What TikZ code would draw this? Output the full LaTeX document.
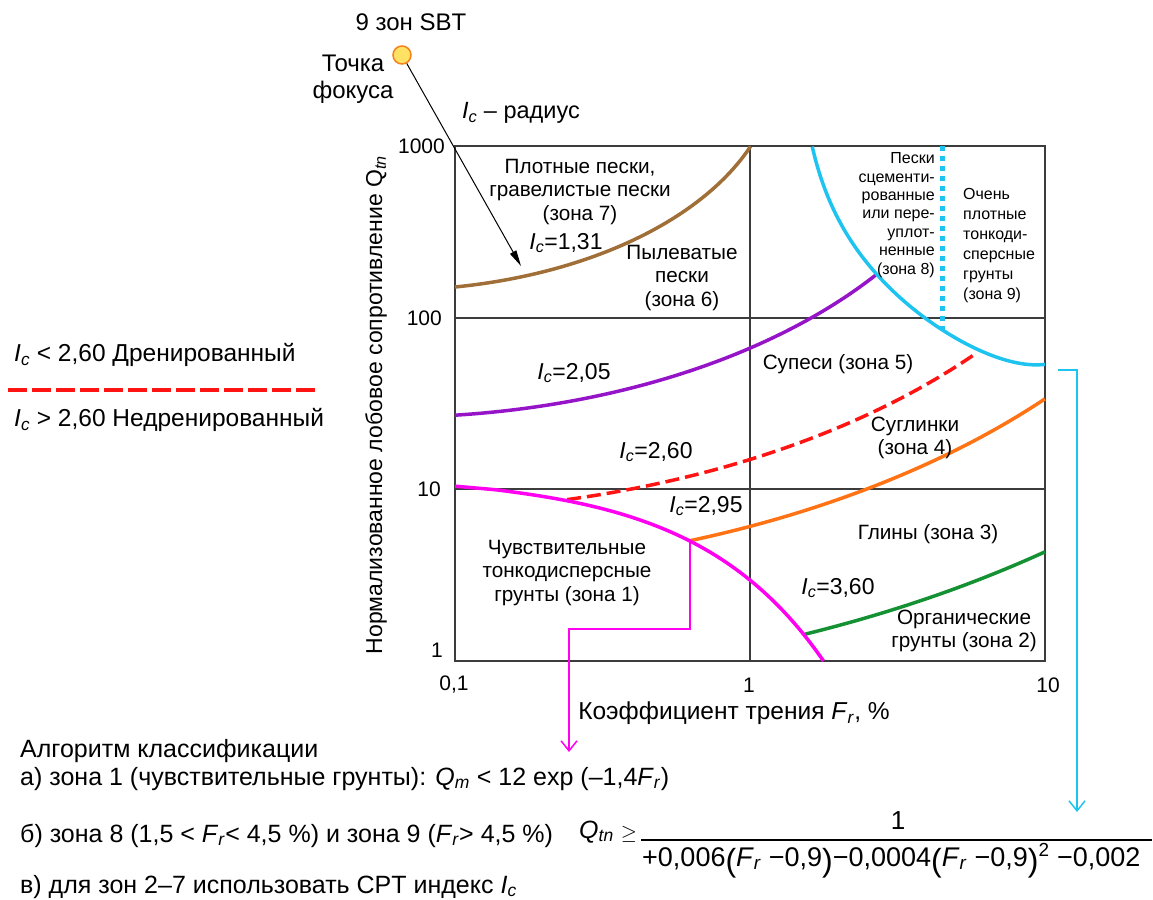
\documentclass[tikz,border=0pt]{standalone}
\usepackage{fontspec}
\setmainfont{Liberation Sans}
\usetikzlibrary{arrows.meta}

\definecolor{gridc}{RGB}{60,60,60}
\definecolor{cbrown}{RGB}{160,110,55}
\definecolor{cpurple}{RGB}{150,20,200}
\definecolor{cred}{RGB}{255,20,20}
\definecolor{corange}{RGB}{255,115,20}
\definecolor{cgreen}{RGB}{20,145,50}
\definecolor{cmag}{RGB}{255,0,240}
\definecolor{ccyan}{RGB}{30,195,240}
\definecolor{dotfill}{RGB}{255,225,100}
\definecolor{dotedge}{RGB}{245,130,30}

\newcommand\Ic{\textit{I}\textsubscript{\textit{c}}}
\newcommand\Fr{\textit{F}\textsubscript{\textit{r}}}
\newcommand\bp[1]{\raisebox{-0.2em}{\fontsize{32}{32}\selectfont #1}}

\begin{document}
\begin{tikzpicture}[x=1pt,y=-1pt,
 gridline/.style={draw=gridc, line width=1.6pt},
 curve/.style={line width=3.5pt},
 lbl/.style={font=\fontsize{20.7}{23.5}\selectfont, align=center, inner sep=0pt},
 sml/.style={font=\fontsize{16}{18.4}\selectfont, inner sep=0pt},
 tick/.style={font=\fontsize{21}{24}\selectfont, inner sep=0pt},
 txt/.style={font=\fontsize{24.5}{28}\selectfont, inner sep=0pt},
 bot/.style={font=\fontsize{25}{28}\selectfont, inner sep=0pt, anchor=base west},
 icl/.style={font=\fontsize{23}{26}\selectfont, inner sep=0pt},
 link/.style={line width=1.5pt},
]
\useasboundingbox (0,0) rectangle (1153,899);

% frame and grid
\draw[gridline] (455,146) rectangle (1045,661);
\draw[gridline] (750,146) -- (750,661);
\draw[gridline] (455,318) -- (1045,318);
\draw[gridline] (455,489) -- (1045,489);

% curves in data coordinates (log10 Fr, log10 Qtn)
\begin{scope}[shift={(750,661)}, x=295pt, y=171.67pt]
 \draw[curve, cbrown] plot[domain=-1:0.0028, samples=80, smooth] (\x, {3.47-sqrt(1.7161-(\x+1.22)^2)});
 \draw[curve, cpurple] plot[domain=-1:0.43, samples=80, smooth] (\x, {3.47-sqrt(4.2025-(\x+1.22)^2)});
 \draw[curve, cred, dash pattern=on 14pt off 6pt] plot[domain=-0.62:0.77, samples=80, smooth] (\x, {3.47-sqrt(6.76-(\x+1.22)^2)});
 \draw[curve, corange] plot[domain=-0.2034:1, samples=80, smooth] (\x, {3.47-sqrt(8.7025-(\x+1.22)^2)});
 \draw[curve, cgreen] plot[domain=0.186:1, samples=60, smooth] (\x, {3.47-sqrt(12.96-(\x+1.22)^2)});
 \draw[curve, cmag] plot[domain=0.1:1.775, samples=100, smooth, variable=\t] ({log10(\t)}, {1.07918-0.608012*\t});
 \draw[curve, ccyan] plot[domain=1.625:10, samples=200, smooth, variable=\t] ({log10(\t)}, {3-log10(5*(\t-1)-0.3*(\t-1)^2-2)});
 \draw[ccyan, line width=5pt, dash pattern=on 5pt off 5pt] (0.653,3) -- (0.653,1.93);
 \coordinate (m1) at (-0.2034,0.6986);
\end{scope}

% connectors
\coordinate (mk) at (569,629);
\coordinate (mend) at (569,752);
\draw[link, cmag, -{Straight Barb[length=10pt,width=16pt,line width=1.5pt]}] (m1) |- (mk) -- (mend);
\coordinate (cstart) at (1058,370);
\coordinate (cend) at (1077,812);
\draw[link, ccyan, -{Straight Barb[length=10pt,width=16pt,line width=1.5pt]}] (cstart) -| (cend);

% focus point
\node[circle, draw=dotedge, fill=dotfill, line width=1.5pt, minimum size=18pt, inner sep=0pt] (focus) at (402,55) {};
\coordinate (ftip) at (521,266);
\draw[line width=1pt, -{Triangle[length=16pt,width=7pt]}] (focus) -- (ftip);
\node[txt, font=\fontsize{24}{28}\selectfont] (sbt) at (411,22) {9 зон SBT};
\node[txt, align=center, font=\fontsize{24}{27}\selectfont] (fokus) at (353,79) {Точка\\фокуса};
\node[icl, font=\fontsize{23.5}{26}\selectfont] (rad) at (521,113) {\Ic\ – радиус};

% zone labels
\node[lbl] (z7) at (580,192) {Плотные пески,\\гравелистые пески\\(зона 7)};
\node[icl] (i131) at (566,243) {\Ic=1,31};
\node[lbl] (z6) at (682,278) {Пылеватые\\пески\\(зона 6)};
\node[icl] (i205) at (574,373) {\Ic=2,05};
\node[lbl] (z5) at (838,364) {Супеси (зона 5)};
\node[lbl] (z4) at (915,438) {Суглинки\\(зона 4)};
\node[icl] (i260) at (656,452) {\Ic=2,60};
\node[icl] (i295) at (706,506) {\Ic=2,95};
\node[lbl] (z3) at (928,534) {Глины (зона 3)};
\node[lbl] (z1) at (567,573) {Чувствительные\\тонкодисперсные\\грунты (зона 1)};
\node[icl] (i360) at (838,588) {\Ic=3,60};
\node[lbl] (z2) at (964,631) {Органические\\грунты (зона 2)};
\node[sml, align=right, anchor=east] (z8) at (935,215) {Пески\\сцементи-\\рованные\\или пере-\\уплот-\\ненные\\(зона 8)};
\node[sml, align=left, anchor=west, font=\fontsize{16}{19.9}\selectfont] (z9) at (963,245.5) {Очень\\плотные\\тонкоди-\\сперсные\\грунты\\(зона 9)};

% axes labels
\node[tick, anchor=east] (t1000) at (445,146) {1000};
\node[tick, anchor=east] (t100) at (442,318) {100};
\node[tick, anchor=east] (t10) at (441,489) {10};
\node[tick, anchor=east] (t1) at (443,650) {1};
\node[tick] (x01) at (454,685) {0,1};
\node[tick] (x1) at (749,685) {1};
\node[tick] (x10) at (1048,685) {10};
\node[txt, rotate=90, font=\fontsize{23}{26}\selectfont] (ylab) at (376,405) {Нормализованное лобовое сопротивление Q\textsubscript{\textit{tn}}};
\node[txt] (xlab) at (734,713) {Коэффициент трения \Fr, \%};

% legend
\node[txt, anchor=west] (leg1) at (14,355) {\Ic\ < 2,60 Дренированный};
\coordinate (lgA) at (8,390);
\coordinate (lgB) at (315,390);
\draw[cred, line width=4pt, dash pattern=on 19pt off 5pt] (lgA) -- (lgB);
\node[txt, anchor=west] (leg2) at (14,420) {\Ic\ > 2,60 Недренированный};

% algorithm
\node[bot] (alg) at (20,757) {Алгоритм классификации};
\node[bot] (alga) at (20,785) {а) зона 1 (чувствительные грунты): \textit{Q}\textsubscript{\textit{m}} < 12 exp (–1,4\Fr)};
\node[bot] (algb) at (20,842) {б) зона 8 (1,5 < \Fr< 4,5 \%) и зона 9 (\Fr> 4,5 \%)};
\node[bot] (algc) at (20,893) {в) для зон 2–7 использовать CPT индекс \Ic};

% formula
\node[font=\fontsize{25}{28}\selectfont, inner sep=0pt, anchor=base west] (qtn) at (579,838) {\textit{Q}\textsubscript{\textit{tn}}};
\node[font=\fontsize{22}{26}\selectfont, inner sep=0pt] (geq) at (629,834) {$\geq$};
\coordinate (barA) at (641,840);
\coordinate (barB) at (1152,840);
\draw[line width=1.3pt] (barA) -- (barB);
\node[font=\fontsize{26}{28}\selectfont, inner sep=0pt] (num) at (898,821) {1};
\node[font=\fontsize{27}{30}\selectfont, inner sep=0pt, anchor=base west] (den) at (642,866) {+0,006\bp{(}\Fr\ −0,9\bp{)}−0,0004\bp{(}\Fr\ −0,9\bp{)}\textsuperscript{2} −0,002};
\end{tikzpicture}
\end{document}
